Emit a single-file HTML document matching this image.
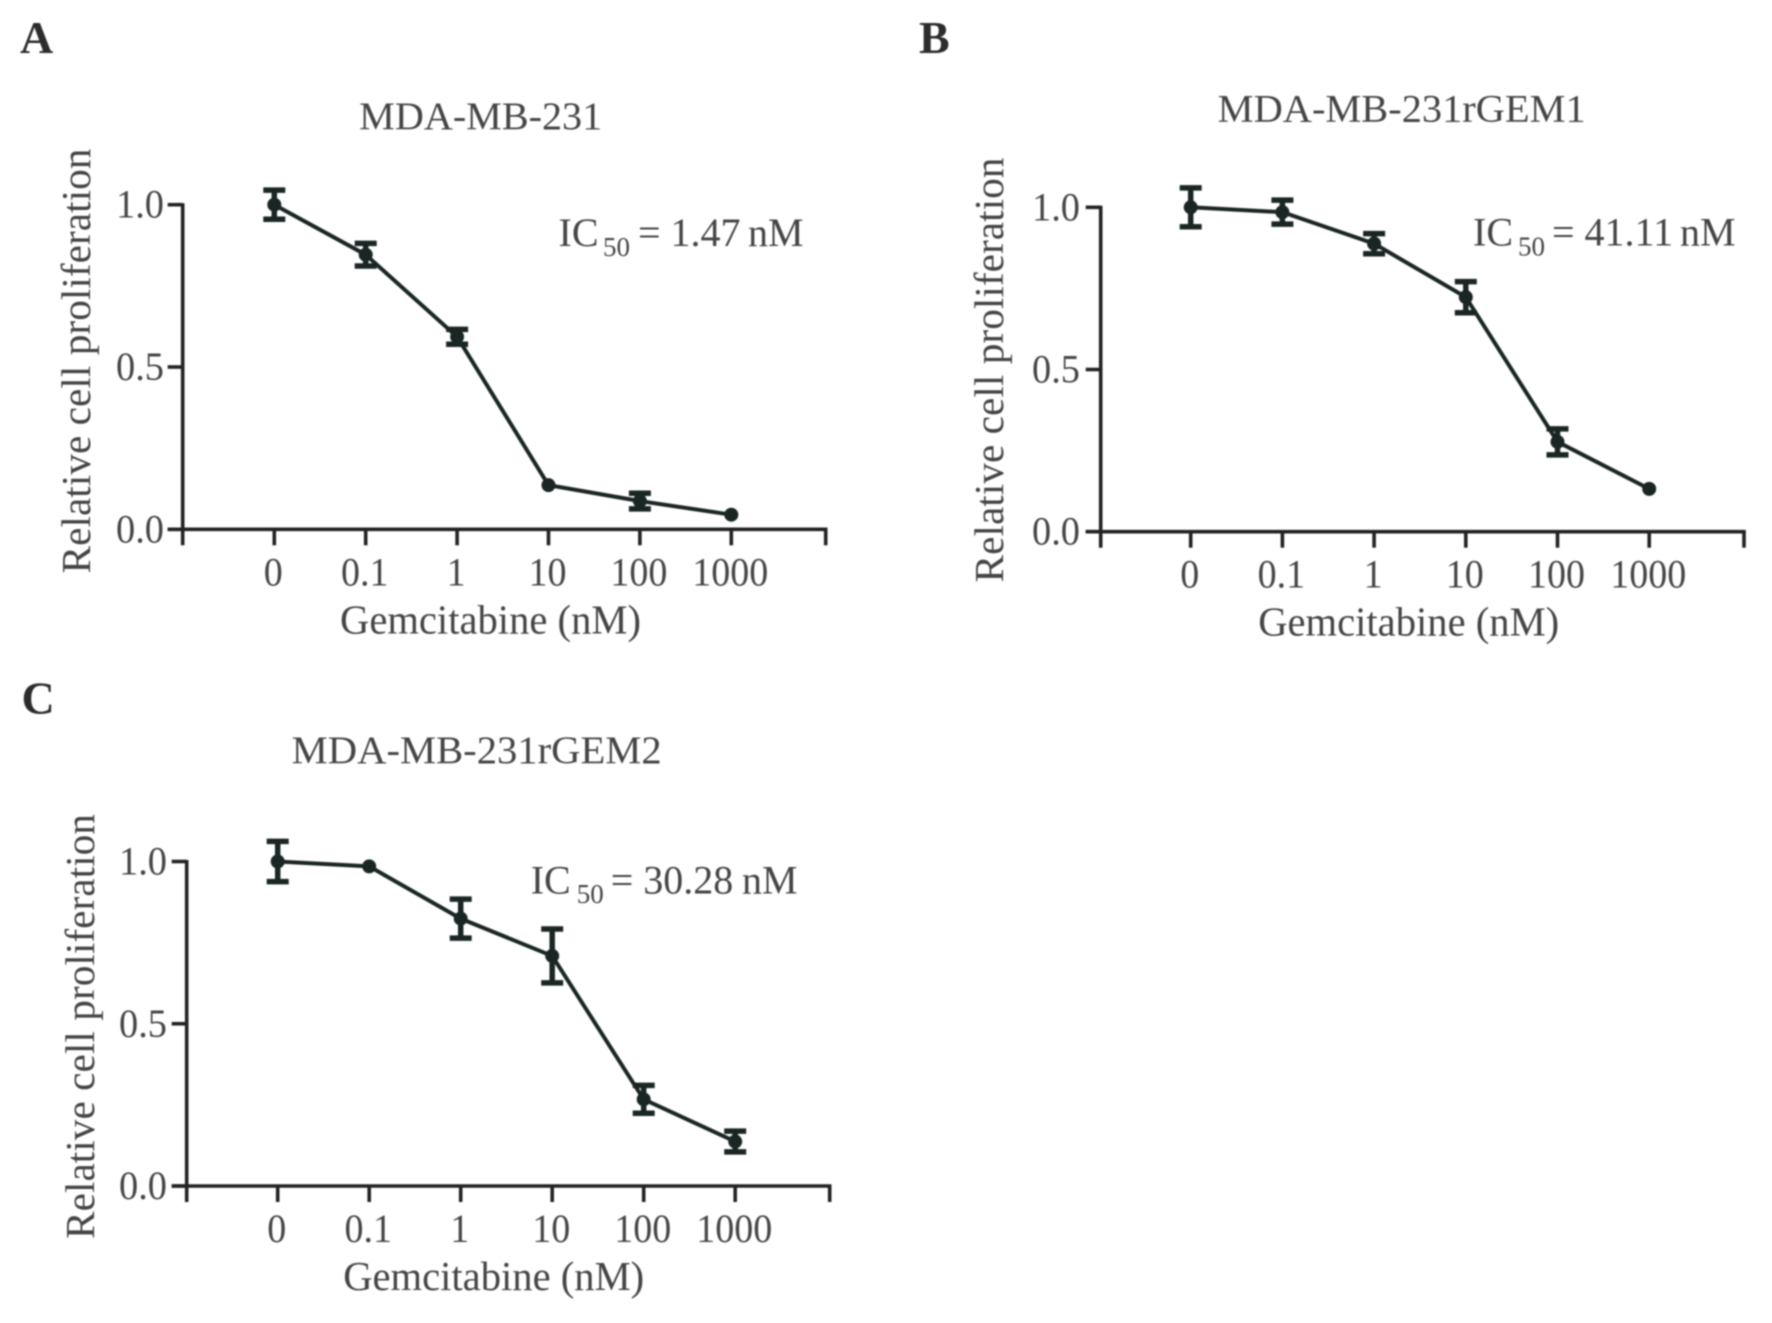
<!DOCTYPE html>
<html lang="en">
<head>
<meta charset="utf-8">
<title>Gemcitabine dose-response curves</title>
<style>
html,body{margin:0;padding:0;background:#fff;width:1772px;height:1323px;overflow:hidden}
svg{display:block;filter:blur(0.8px)}
text{font-family:"Liberation Serif",serif;fill:#454545}
.tick{font-size:40px}
.title{font-size:39px}
.axt{font-size:41px}
.ic{font-size:40px}
.sub{font-size:27px}
.letter{font-size:46px;font-weight:bold;fill:#2c2c2c}
</style>
</head>
<body>
<svg id="figure" xmlns="http://www.w3.org/2000/svg" width="1772" height="1323" viewBox="0 0 1772 1323">
  <rect x="0" y="0" width="1772" height="1323" fill="#fff"/>

  <g id="panel-a">
    <text class="letter" x="20" y="53">A</text>
    <text class="title" x="480.7" y="129" text-anchor="middle" textLength="243" lengthAdjust="spacingAndGlyphs">MDA-MB-231</text>
    <text class="axt" transform="translate(90 361) rotate(-90)" text-anchor="middle" textLength="425" lengthAdjust="spacingAndGlyphs">Relative cell proliferation</text>
    <text class="axt" x="490.5" y="633.5" text-anchor="middle" textLength="301" lengthAdjust="spacingAndGlyphs">Gemcitabine (nM)</text>
    <text class="ic"><tspan x="558.5" y="246">IC</tspan><tspan class="sub" x="603" y="256">50</tspan><tspan x="638" y="246">= 1.47</tspan><tspan x="748" y="246">nM</tspan></text>
  </g>

  <g id="panel-b">
    <text class="letter" x="919" y="53">B</text>
    <text class="title" x="1401.7" y="121.6" text-anchor="middle" textLength="368" lengthAdjust="spacingAndGlyphs">MDA-MB-231rGEM1</text>
    <text class="axt" transform="translate(1003 370) rotate(-90)" text-anchor="middle" textLength="425" lengthAdjust="spacingAndGlyphs">Relative cell proliferation</text>
    <text class="axt" x="1408.7" y="635.5" text-anchor="middle" textLength="301" lengthAdjust="spacingAndGlyphs">Gemcitabine (nM)</text>
    <text class="ic"><tspan x="1473" y="245.5">IC</tspan><tspan class="sub" x="1518" y="255.5">50</tspan><tspan x="1552" y="245.5">= 41.11</tspan><tspan x="1680" y="245.5">nM</tspan></text>
  </g>

  <g id="panel-c">
    <text class="letter" x="21.5" y="713.5">C</text>
    <text class="title" x="476.7" y="763.2" text-anchor="middle" textLength="370" lengthAdjust="spacingAndGlyphs">MDA-MB-231rGEM2</text>
    <text class="axt" transform="translate(94 1026.5) rotate(-90)" text-anchor="middle" textLength="425" lengthAdjust="spacingAndGlyphs">Relative cell proliferation</text>
    <text class="axt" x="493.7" y="1290" text-anchor="middle" textLength="301" lengthAdjust="spacingAndGlyphs">Gemcitabine (nM)</text>
    <text class="ic"><tspan x="530.7" y="893.3">IC</tspan><tspan class="sub" x="576.7" y="903">50</tspan><tspan x="610.7" y="893.3">= 30.28</tspan><tspan x="742" y="893.3">nM</tspan></text>
  </g>
</svg>

<script>
// Shared axis labels
var doseLabels = ['0', '0.1', '1', '10', '100', '1000'];
var yTickValues = [0, 0.5, 1];
var yTickLabels = ['0.0', '0.5', '1.0'];

// Panel A: MDA-MB-231
var valuesA = [1.0, 0.846, 0.593, 0.136, 0.087, 0.045];
var errorsA = [0.045, 0.035, 0.023, 0, 0.024, 0];

// Panel B: MDA-MB-231rGEM1
var valuesB = [1.0, 0.985, 0.888, 0.723, 0.277, 0.132];
var errorsB = [0.06, 0.037, 0.031, 0.048, 0.04, 0];

// Panel C: MDA-MB-231rGEM2
var valuesC = [1.0, 0.985, 0.824, 0.709, 0.267, 0.137];
var errorsC = [0.062, 0, 0.06, 0.083, 0.043, 0.032];

var SVG_NS = 'http://www.w3.org/2000/svg';
var INK = '#1a2624';
var AXIS_INK = '#232323';

function make(parent, tag, attrs) {
  var el = document.createElementNS(SVG_NS, tag);
  for (var k in attrs) el.setAttribute(k, attrs[k]);
  parent.appendChild(el);
  return el;
}

function condense(el, ratio) {
  el.setAttribute('textLength', el.getComputedTextLength() * ratio);
  el.setAttribute('lengthAdjust', 'spacingAndGlyphs');
}

function drawPanel(groupId, frame, values, errors) {
  var group = document.getElementById(groupId);
  var xScale = function (i) { return frame.x0 + i * frame.step; };
  var yScale = function (v) { return frame.yZero - v * (frame.yZero - frame.yOne); };

  var yAxis = make(group, 'line', { x1: frame.left, x2: frame.left, y1: yScale(1) - 1.5, y2: frame.yZero + 16, stroke: AXIS_INK, 'stroke-width': 3.6 });
  
  

  var xAxis = make(group, 'line', { x1: frame.left - 15, x2: frame.right + 1.8, y1: frame.yZero, y2: frame.yZero, stroke: AXIS_INK, 'stroke-width': 3.6 });
  
  

  var xEnd = make(group, 'line', { x1: frame.right, x2: frame.right, y1: frame.yZero, y2: frame.yZero + 16, stroke: AXIS_INK, 'stroke-width': 3.6 });
  
  

  yTickValues.forEach(function (v, i) {
    var tick = make(group, 'line', { x1: frame.left - 15, x2: frame.left, y1: yScale(v), y2: yScale(v), stroke: AXIS_INK, 'stroke-width': 3.6 });
    
    
    var label = make(group, 'text', { 'class': 'tick', x: frame.yLabelRight, y: yScale(v) + 13, 'text-anchor': 'end' });
    label.textContent = yTickLabels[i];
    
    
    condense(label, 0.96);
  });

  doseLabels.forEach(function (text, i) {
    var tick = make(group, 'line', { x1: xScale(i), x2: xScale(i), y1: frame.yZero, y2: frame.yZero + 16, stroke: AXIS_INK, 'stroke-width': 3.6 });
    
    
    var label = make(group, 'text', { 'class': 'tick', x: xScale(i) - 1, y: frame.xLabelY, 'text-anchor': 'middle' });
    label.textContent = text;
    
    
    condense(label, 0.95);
  });

  var points = values.map(function (v, i) { return xScale(i) + ',' + yScale(v); }).join(' ');
  var line = make(group, 'polyline', { points: points, fill: 'none', stroke: INK, 'stroke-width': 4, 'stroke-linejoin': 'round' });
  
  

  values.forEach(function (v, i) {
    var cx = xScale(i), err = errors[i];
    if (err > 0) {
      var top = yScale(v + err), bottom = yScale(v - err);
      var bar = make(group, 'path', {
        d: 'M' + (cx - 11) + ' ' + top + 'H' + (cx + 11) + 'M' + cx + ' ' + top + 'V' + bottom + 'M' + (cx - 11) + ' ' + bottom + 'H' + (cx + 11),
        fill: 'none', stroke: INK, 'stroke-width': 5.5
      });
      
      
    }
    var dot = make(group, 'circle', { cx: cx, cy: yScale(v), r: 7, fill: INK });
    
    
  });
}

drawPanel('panel-a', { left: 182.7, right: 825.7, x0: 274.3, step: 91.4, yZero: 529.3, yOne: 204.7, yLabelRight: 164, xLabelY: 585.5 }, valuesA, errorsA);
drawPanel('panel-b', { left: 1100.7, right: 1744, x0: 1190.7, step: 91.7, yZero: 531.7, yOne: 207.3, yLabelRight: 1080, xLabelY: 587.5 }, valuesB, errorsB);
drawPanel('panel-c', { left: 186.7, right: 829.7, x0: 277.7, step: 91.5, yZero: 1186, yOne: 861.5, yLabelRight: 167, xLabelY: 1242 }, valuesC, errorsC);
</script>
</body>
</html>
